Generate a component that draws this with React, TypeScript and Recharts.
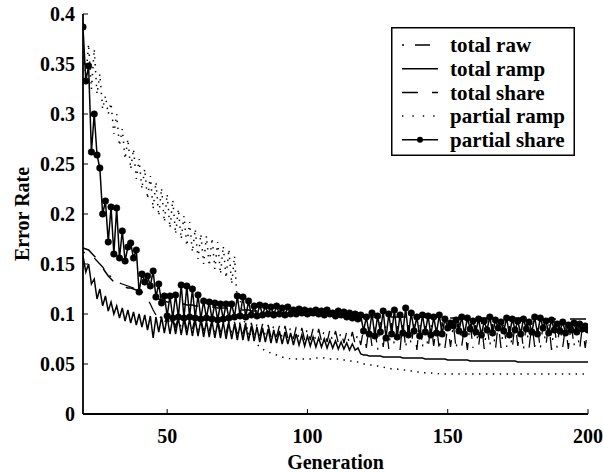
import React from 'react';
import { LineChart, Line, XAxis, YAxis, Legend } from 'recharts';

// Error rate per generation, generations 20..200
const firstGeneration = 20;

const totalRaw = [
  0.162, 0.161, 0.160, 0.158, 0.156, 0.153, 0.150, 0.147, 0.143, 0.140,
  0.137, 0.135, 0.133, 0.131, 0.130, 0.129, 0.128, 0.127, 0.126, 0.125,
  0.124, 0.122, 0.119, 0.115, 0.110, 0.104, 0.099, 0.094, 0.098, 0.090,
  0.099, 0.088, 0.098, 0.087, 0.097, 0.086, 0.097, 0.085, 0.096, 0.085,
  0.096, 0.084, 0.095, 0.083, 0.095, 0.083, 0.094, 0.082, 0.094, 0.082,
  0.093, 0.081, 0.093, 0.081, 0.092, 0.080, 0.092, 0.080, 0.091, 0.079,
  0.091, 0.079, 0.090, 0.078, 0.090, 0.078, 0.089, 0.077, 0.089, 0.077,
  0.088, 0.076, 0.088, 0.076, 0.087, 0.075, 0.087, 0.075, 0.086, 0.074,
  0.086, 0.074, 0.085, 0.073, 0.085, 0.073, 0.084, 0.072, 0.084, 0.072,
  0.083, 0.071, 0.083, 0.071, 0.082, 0.070, 0.082, 0.070, 0.081, 0.069,
  0.085, 0.066, 0.090, 0.068, 0.088, 0.064, 0.092, 0.067, 0.089, 0.065,
  0.091, 0.068, 0.088, 0.064, 0.093, 0.066, 0.089, 0.068, 0.090, 0.064,
  0.092, 0.067, 0.088, 0.065, 0.091, 0.068, 0.089, 0.064, 0.092, 0.066,
  0.088, 0.067, 0.090, 0.065, 0.092, 0.068, 0.088, 0.064, 0.091, 0.066,
  0.089, 0.067, 0.092, 0.065, 0.088, 0.068, 0.090, 0.064, 0.091, 0.066,
  0.089, 0.067, 0.088, 0.065, 0.092, 0.068, 0.089, 0.064, 0.090, 0.066,
  0.091, 0.067, 0.088, 0.065, 0.090, 0.068, 0.092, 0.064, 0.089, 0.066,
  0.090, 0.067, 0.088, 0.065, 0.091, 0.068, 0.089, 0.064, 0.088, 0.066,
  0.087,
];

const totalRamp = [
  0.158, 0.142, 0.150, 0.130, 0.135, 0.115, 0.125, 0.108, 0.118, 0.103,
  0.112, 0.100, 0.108, 0.096, 0.106, 0.093, 0.104, 0.091, 0.102, 0.089,
  0.100, 0.087, 0.099, 0.084, 0.098, 0.076, 0.097, 0.082, 0.097, 0.081,
  0.097, 0.080, 0.096, 0.080, 0.096, 0.079, 0.095, 0.079, 0.095, 0.078,
  0.094, 0.078, 0.094, 0.077, 0.093, 0.077, 0.093, 0.076, 0.092, 0.076,
  0.092, 0.075, 0.091, 0.075, 0.090, 0.074, 0.090, 0.074, 0.089, 0.073,
  0.088, 0.073, 0.087, 0.072, 0.086, 0.072, 0.085, 0.071, 0.084, 0.071,
  0.083, 0.070, 0.082, 0.070, 0.081, 0.069, 0.080, 0.069, 0.079, 0.068,
  0.078, 0.068, 0.077, 0.067, 0.076, 0.067, 0.075, 0.066, 0.074, 0.066,
  0.073, 0.065, 0.072, 0.065, 0.071, 0.064, 0.070, 0.064, 0.066, 0.060,
  0.059, 0.059, 0.058, 0.058, 0.058, 0.058, 0.058, 0.057, 0.057, 0.057,
  0.057, 0.057, 0.057, 0.057, 0.056, 0.056, 0.056, 0.056, 0.056, 0.056,
  0.056, 0.056, 0.055, 0.055, 0.055, 0.055, 0.055, 0.055, 0.055, 0.055,
  0.054, 0.054, 0.054, 0.054, 0.054, 0.054, 0.054, 0.054, 0.053, 0.053,
  0.053, 0.053, 0.053, 0.053, 0.053, 0.053, 0.053, 0.053, 0.053, 0.053,
  0.053, 0.053, 0.053, 0.053, 0.053, 0.052, 0.052, 0.052, 0.052, 0.052,
  0.052, 0.052, 0.052, 0.052, 0.052, 0.052, 0.052, 0.052, 0.052, 0.052,
  0.052, 0.052, 0.052, 0.052, 0.052, 0.052, 0.052, 0.052, 0.052, 0.052,
  0.052,
];

const totalShare = [
  0.166, 0.165, 0.164, 0.161, 0.158, 0.155, 0.150, 0.146, 0.142, 0.138,
  0.135, 0.132, 0.130, 0.129, 0.128, 0.127, 0.126, 0.126, 0.125, 0.124,
  0.123, 0.122, 0.121, 0.120, 0.119, 0.118, 0.117, 0.115, 0.114, 0.113,
  0.112, 0.112, 0.111, 0.111, 0.110, 0.110, 0.110, 0.109, 0.109, 0.109,
  0.108, 0.108, 0.108, 0.108, 0.107, 0.107, 0.107, 0.107, 0.106, 0.106,
  0.106, 0.106, 0.105, 0.105, 0.105, 0.105, 0.104, 0.104, 0.104, 0.104,
  0.103, 0.103, 0.103, 0.103, 0.102, 0.102, 0.102, 0.102, 0.102, 0.101,
  0.101, 0.101, 0.101, 0.100, 0.100, 0.100, 0.100, 0.100, 0.100, 0.099,
  0.099, 0.099, 0.099, 0.099, 0.099, 0.098, 0.098, 0.098, 0.098, 0.098,
  0.098, 0.098, 0.098, 0.097, 0.097, 0.097, 0.097, 0.097, 0.097, 0.097,
  0.097, 0.097, 0.097, 0.097, 0.097, 0.097, 0.097, 0.097, 0.097, 0.097,
  0.097, 0.097, 0.097, 0.097, 0.097, 0.097, 0.097, 0.097, 0.097, 0.097,
  0.097, 0.097, 0.097, 0.097, 0.097, 0.097, 0.097, 0.097, 0.097, 0.097,
  0.096, 0.096, 0.096, 0.096, 0.096, 0.096, 0.096, 0.096, 0.096, 0.096,
  0.096, 0.096, 0.096, 0.096, 0.096, 0.096, 0.096, 0.096, 0.096, 0.096,
  0.096, 0.096, 0.096, 0.096, 0.096, 0.096, 0.096, 0.096, 0.096, 0.096,
  0.095, 0.095, 0.095, 0.095, 0.095, 0.095, 0.095, 0.095, 0.095, 0.095,
  0.095, 0.095, 0.095, 0.095, 0.095, 0.095, 0.095, 0.095, 0.095, 0.095,
  0.095,
];

const partialRamp = [
  0.372, 0.335, 0.370, 0.325, 0.365, 0.320, 0.340, 0.305, 0.318, 0.300,
  0.311, 0.280, 0.300, 0.268, 0.285, 0.255, 0.275, 0.245, 0.265, 0.235,
  0.255, 0.225, 0.245, 0.215, 0.238, 0.205, 0.232, 0.198, 0.226, 0.192,
  0.220, 0.186, 0.214, 0.180, 0.205, 0.175, 0.198, 0.168, 0.192, 0.162,
  0.185, 0.155, 0.180, 0.150, 0.178, 0.148, 0.176, 0.145, 0.172, 0.140,
  0.168, 0.136, 0.165, 0.130, 0.158, 0.110, 0.115, 0.095, 0.090, 0.082,
  0.078, 0.074, 0.070, 0.067, 0.065, 0.063, 0.062, 0.061, 0.060, 0.059,
  0.058, 0.057, 0.056, 0.056, 0.055, 0.055, 0.055, 0.055, 0.055, 0.055,
  0.055, 0.055, 0.056, 0.056, 0.056, 0.056, 0.056, 0.055, 0.055, 0.055,
  0.055, 0.055, 0.054, 0.054, 0.054, 0.053, 0.053, 0.052, 0.052, 0.051,
  0.050, 0.050, 0.049, 0.049, 0.048, 0.048, 0.047, 0.047, 0.046, 0.046,
  0.045, 0.045, 0.045, 0.044, 0.044, 0.044, 0.043, 0.043, 0.043, 0.042,
  0.042, 0.042, 0.041, 0.041, 0.041, 0.041, 0.041, 0.040, 0.040, 0.040,
  0.040, 0.040, 0.040, 0.040, 0.040, 0.040, 0.040, 0.040, 0.040, 0.040,
  0.040, 0.040, 0.040, 0.040, 0.040, 0.040, 0.040, 0.040, 0.040, 0.040,
  0.040, 0.040, 0.040, 0.040, 0.040, 0.040, 0.040, 0.040, 0.040, 0.040,
  0.040, 0.040, 0.040, 0.040, 0.040, 0.040, 0.040, 0.040, 0.040, 0.040,
  0.040, 0.040, 0.040, 0.040, 0.040, 0.040, 0.040, 0.040, 0.040, 0.040,
  0.040,
];

const partialShare = [
  0.387, 0.333, 0.348, 0.262, 0.300, 0.259, 0.246, 0.200, 0.213, 0.172,
  0.207, 0.160, 0.206, 0.156, 0.183, 0.153, 0.167, 0.171, 0.156, 0.164,
  0.122, 0.140, 0.132, 0.138, 0.128, 0.143, 0.117, 0.130, 0.111, 0.118,
  0.098, 0.118, 0.096, 0.119, 0.097, 0.129, 0.096, 0.128, 0.097, 0.125,
  0.096, 0.119, 0.095, 0.113, 0.096, 0.112, 0.095, 0.111, 0.094, 0.110,
  0.095, 0.110, 0.096, 0.110, 0.097, 0.118, 0.098, 0.117, 0.097, 0.113,
  0.099, 0.108, 0.098, 0.109, 0.099, 0.108, 0.100, 0.107, 0.099, 0.108,
  0.100, 0.106, 0.099, 0.107, 0.100, 0.104, 0.100, 0.105, 0.101, 0.104,
  0.100, 0.103, 0.101, 0.104, 0.100, 0.103, 0.099, 0.104, 0.100, 0.101,
  0.098, 0.103, 0.099, 0.102, 0.097, 0.101, 0.096, 0.100, 0.095, 0.099,
  0.083, 0.097, 0.080, 0.101, 0.078, 0.098, 0.082, 0.103, 0.076, 0.100,
  0.080, 0.104, 0.077, 0.099, 0.081, 0.106, 0.079, 0.101, 0.083, 0.097,
  0.078, 0.099, 0.082, 0.098, 0.079, 0.097, 0.081, 0.099, 0.080, 0.095,
  0.086, 0.091, 0.088, 0.094, 0.083, 0.097, 0.080, 0.096, 0.085, 0.093,
  0.082, 0.095, 0.079, 0.093, 0.084, 0.097, 0.081, 0.094, 0.086, 0.092,
  0.083, 0.096, 0.079, 0.095, 0.084, 0.093, 0.080, 0.095, 0.085, 0.092,
  0.082, 0.097, 0.080, 0.096, 0.086, 0.093, 0.081, 0.094, 0.084, 0.090,
  0.083, 0.092, 0.081, 0.089, 0.084, 0.091, 0.082, 0.090, 0.085, 0.088,
  0.084,
];

const xTicks = [50, 100, 150, 200];
const yTicks = [0, 0.05, 0.1, 0.15, 0.2, 0.25, 0.3, 0.35, 0.4];

const data = partialShare.map((_, i) => ({
  generation: firstGeneration + i,
  totalRaw: totalRaw[i],
  totalRamp: totalRamp[i],
  totalShare: totalShare[i],
  partialRamp: partialRamp[i],
  partialShare: partialShare[i],
}));

const FONT = '"Liberation Serif", "Times New Roman", serif';
const tickStyle = { fontFamily: FONT, fontWeight: 'bold', fontSize: 20, fill: '#000' };

const DASH_DOT = '2 11 15 8';
const DASHED = '16 14';
const DOTTED = '1.4 5.5';

const legendRows = [
  { name: 'total raw', dash: DASH_DOT, marker: false },
  { name: 'total ramp', dash: undefined, marker: false },
  { name: 'total share', dash: DASHED, marker: false },
  { name: 'partial ramp', dash: '1.4 9', marker: false },
  { name: 'partial share', dash: undefined, marker: true },
];

function LegendBox() {
  return (
    <svg width={184} height={129} style={{ display: 'block' }}>
      <rect x={0.75} y={0.75} width={182.5} height={127.5} fill="#fff" stroke="#000" strokeWidth={1.5} />
      {legendRows.map((row, i) => {
        const y = 18 + i * 23.7;
        return (
          <g key={row.name}>
            <line x1={11} x2={47} y1={y} y2={y} stroke="#000" strokeWidth={1.5} strokeDasharray={row.dash} />
            {row.marker && <circle cx={29} cy={y} r={3} fill="#000" />}
            <text x={59} y={y} dy="0.35em" fontFamily={FONT} fontWeight="bold" fontSize={21}
              fill="#000" style={{ fill: '#000' }}>
              {row.name}
            </text>
          </g>
        );
      })}
    </svg>
  );
}

function YTitle(props: any) {
  const vb = props.viewBox;
  const cx = vb.x + 22;
  const cy = vb.y + vb.height / 2;
  return (
    <text x={cx} y={cy} transform={`rotate(-90, ${cx}, ${cy})`} textAnchor="middle" dy="0.35em"
      fontFamily={FONT} fontWeight="bold" fontSize={20} fill="#000" stroke="none" style={{ fill: '#000' }}>
      Error Rate
    </text>
  );
}

function XTitle(props: any) {
  const vb = props.viewBox;
  return (
    <text x={vb.x + vb.width / 2} y={vb.y + 55} textAnchor="middle"
      fontFamily={FONT} fontWeight="bold" fontSize={20} fill="#000" stroke="none" style={{ fill: '#000' }}>
      Generation
    </text>
  );
}

const axisLine = { stroke: '#000', strokeWidth: 1.8 };
const tickLine = { stroke: '#000', strokeWidth: 1 };

export default function App() {
  return (
    <div style={{ position: 'absolute', left: 0, top: 0, background: '#fff' }}>
      <LineChart width={603} height={472} data={data} margin={{ top: 14, right: 15, bottom: 0, left: 0 }}>
        <XAxis dataKey="generation" type="number" domain={[20, 200]} ticks={xTicks} allowDataOverflow
          height={58} axisLine={axisLine} tickLine={tickLine} tickSize={-5} tickMargin={20}
          tick={tickStyle} label={<XTitle />} />
        <XAxis xAxisId="top" orientation="top" type="number" domain={[20, 200]} ticks={xTicks} allowDataOverflow
          height={0} axisLine={axisLine} tickLine={tickLine} tickSize={-5} tickFormatter={() => ''} />
        <YAxis type="number" domain={[0, 0.4]} ticks={yTicks} allowDataOverflow width={83}
          axisLine={axisLine} tickLine={tickLine} tickSize={-5} tickMargin={13} tick={tickStyle}
          tickFormatter={(v: number) => String(v)} label={<YTitle />} />
        <YAxis yAxisId="right" orientation="right" type="number" domain={[0, 0.4]} ticks={yTicks} allowDataOverflow
          width={0} axisLine={axisLine} tickLine={tickLine} tickSize={-5} tickFormatter={() => ''} />
        <Line type="linear" dataKey="totalRaw" stroke="#000" strokeWidth={1.3} strokeDasharray={DASH_DOT}
          dot={false} isAnimationActive={false} />
        <Line type="linear" dataKey="totalRamp" stroke="#000" strokeWidth={1.5}
          dot={false} isAnimationActive={false} />
        <Line type="linear" dataKey="totalShare" stroke="#000" strokeWidth={1.5} strokeDasharray={DASHED}
          dot={false} isAnimationActive={false} />
        <Line type="linear" dataKey="partialRamp" stroke="#000" strokeWidth={1.5} strokeDasharray={DOTTED}
          dot={false} isAnimationActive={false} />
        <Line type="linear" dataKey="partialShare" stroke="#000" strokeWidth={1.5}
          dot={{ r: 3.3, fill: '#000', stroke: '#000', strokeWidth: 0.5 }} isAnimationActive={false} />
        <Legend layout="vertical" align="center" verticalAlign="middle" content={() => <LegendBox />}
          wrapperStyle={{ position: 'absolute', left: 391, top: 27, width: 184, height: 129 }} />
      </LineChart>
    </div>
  );
}
